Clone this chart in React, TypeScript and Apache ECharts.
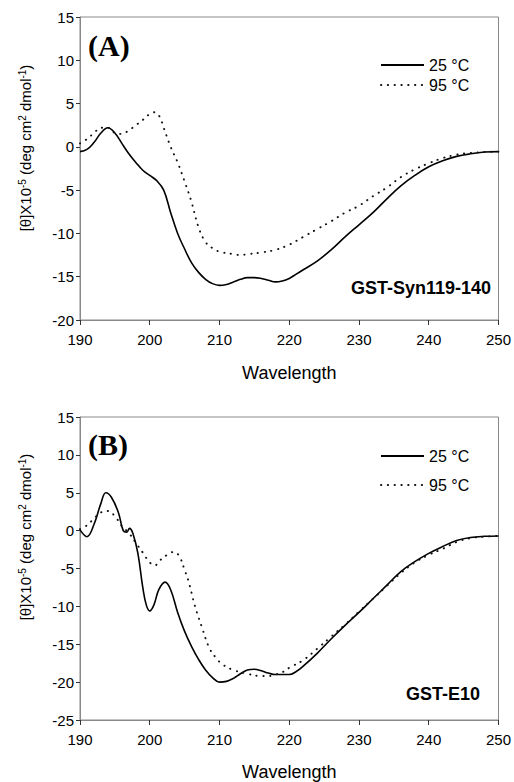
import React, { useEffect, useRef } from "react";
import * as echarts from "echarts";

// Panel A (GST-Syn119-140)
const wlA25 = [190, 191, 192, 193, 194, 195, 196, 197, 198, 199, 200, 201, 202, 203, 204, 205, 206, 207, 208, 209, 210, 211, 212, 213, 214, 215, 216, 217, 218, 219, 220, 221, 222, 224, 226, 228, 230, 232, 234, 236, 238, 240, 242, 244, 246, 248, 250];
const valA25 = [-0.55, -0.3, 0.5, 1.6, 2.2, 1.6, 0.4, -0.8, -1.8, -2.7, -3.3, -3.9, -5.0, -7.6, -10.0, -11.8, -13.4, -14.5, -15.3, -15.8, -16.0, -15.9, -15.6, -15.3, -15.1, -15.1, -15.2, -15.4, -15.6, -15.5, -15.2, -14.7, -14.2, -13.2, -11.9, -10.4, -9.0, -7.6, -6.0, -4.5, -3.3, -2.3, -1.6, -1.1, -0.8, -0.6, -0.55];
const wlA95 = [190, 191, 192, 193, 194, 195, 196, 197, 198, 199, 200, 200.7, 201.4, 202, 203, 204, 205, 206, 207, 208, 209, 210, 212, 213, 214, 216, 218, 220, 222, 224, 226, 228, 230, 232, 234, 236, 238, 240, 242, 244, 246, 248, 250];
const valA95 = [0.4, 0.9, 1.6, 2.2, 2.2, 1.6, 1.5, 1.9, 2.5, 3.1, 3.8, 4.0, 3.5, 2.2, 0.0, -1.8, -4.0, -6.4, -9.3, -11.0, -11.7, -12.1, -12.4, -12.5, -12.4, -12.2, -11.9, -11.3, -10.4, -9.5, -8.6, -7.6, -6.8, -5.7, -4.7, -3.5, -2.6, -1.9, -1.3, -0.9, -0.7, -0.6, -0.55];

// Panel B (GST-E10)
const wlB25 = [190, 191, 192, 193, 193.7, 194.5, 195.5, 196.2, 196.7, 197.1, 197.6, 198.3, 199, 199.5, 200, 200.6, 201.3, 202.2, 203, 204, 205, 206, 207, 208, 209, 210, 211, 212, 213, 214, 215, 216, 217, 218, 219, 220, 221, 222, 224, 226, 228, 230, 232, 234, 236, 238, 240, 242, 244, 246, 248, 250];
const valB25 = [0.1, -0.8, 0.8, 3.6, 5.0, 4.4, 2.4, 0.0, -0.2, 0.3, -0.4, -3.0, -7.5, -9.8, -10.6, -9.8, -7.8, -6.8, -7.8, -10.8, -13.3, -15.3, -17.0, -18.4, -19.4, -20.0, -19.9, -19.5, -18.9, -18.4, -18.3, -18.5, -18.8, -19.0, -19.0, -19.0, -18.6, -17.9, -16.2, -14.3, -12.5, -10.8, -9.0, -7.2, -5.4, -4.1, -3.0, -2.1, -1.3, -0.9, -0.75, -0.7];
const wlB95 = [190, 191, 192, 193, 194, 195, 196, 197, 198, 199, 200, 200.7, 201.5, 202.5, 203.5, 204.3, 205, 205.5, 206.5, 207.5, 208.5, 209.5, 210.5, 212, 214, 216, 217, 218, 219, 220, 222, 224, 226, 228, 230, 232, 234, 236, 238, 240, 242, 244, 246, 248, 250];
const valB95 = [0.2, 0.7, 1.6, 2.4, 2.6, 1.9, 0.6, -0.3, -1.6, -2.9, -4.2, -4.6, -3.9, -3.2, -2.8, -3.5, -5.2, -6.5, -10.0, -12.8, -15.4, -16.8, -17.7, -18.4, -18.9, -19.2, -19.2, -19.0, -18.7, -18.1, -17.1, -15.6, -14.0, -12.4, -10.7, -9.0, -7.3, -5.6, -4.2, -3.2, -2.4, -1.5, -1.0, -0.8, -0.7];

const seriesNames = ["25 °C", "95 °C"];
const panelLabels = ["(A)", "(B)"];
const sampleNames = ["GST-Syn119-140", "GST-E10"];
const xAxisName = "Wavelength";
const yAxisLabel = "[θ]X10{sup|-5} (deg cm{sup|2} dmol{sup|-1})";

const pairs = (xs: number[], ys: number[]) => xs.map((x, i) => [x, ys[i]]);

export default function App() {
  const ref = useRef<HTMLDivElement>(null);
  useEffect(() => {
    if (!ref.current) return;
    const chart = echarts.init(ref.current, undefined, { renderer: "svg" });
    const font = "'Liberation Sans', Arial, sans-serif";
    const axisCommonX = {
      type: "value",
      min: 190,
      max: 250,
      interval: 10,
      name: xAxisName,
      nameLocation: "middle",
      nameTextStyle: { fontSize: 18, color: "#000", fontFamily: font },
      axisLine: { show: true, onZero: false, lineStyle: { color: "#888", width: 1 } },
      axisTick: { show: true, inside: false, length: 5, lineStyle: { color: "#333" } },
      axisLabel: { fontSize: 15, color: "#000", fontFamily: font, margin: 12 },
      splitLine: { show: false },
    };
    const axisCommonY = {
      type: "value",
      max: 15,
      interval: 5,
      axisLine: { show: true, onZero: false, lineStyle: { color: "#888", width: 1 } },
      axisTick: { show: true, inside: false, length: 4, lineStyle: { color: "#333" } },
      axisLabel: { fontSize: 15, color: "#000", fontFamily: font, margin: 6 },
      splitLine: { show: false },
    };
    const solid = { color: "#000", width: 1.6, type: "solid" };
    const dotted = { color: "#111", width: 1.9, type: [0.3, 6.5], cap: "round" };
    const mk = (name: string, data: number[][], idx: number, ls: any) => ({
      type: "line",
      name,
      data,
      xAxisIndex: idx,
      yAxisIndex: idx,
      symbol: "none",
      showSymbol: false,
      smooth: 0.4,
      lineStyle: ls,
      itemStyle: { color: "#000" },
    });
    const richSup = {
      sup: { fontSize: 10, fontFamily: font, color: "#000", verticalAlign: "top", lineHeight: 16 },
    };
    const legendCommon = {
      data: seriesNames,
      orient: "vertical",
      left: 375,
      itemWidth: 43,
      itemHeight: 14,
      textStyle: { fontSize: 16, color: "#000", fontFamily: font },
      itemStyle: { opacity: 0, color: "transparent", borderWidth: 0 },
      selectedMode: false,
    };
    chart.setOption({
      animation: false,
      backgroundColor: "#fff",
      grid: [
        { left: 80, top: 17, width: 420, height: 303, show: true, borderColor: "#888", borderWidth: 1 },
        { left: 80, top: 417, width: 420, height: 304, show: true, borderColor: "#888", borderWidth: 1 },
      ],
      xAxis: [
        { ...axisCommonX, gridIndex: 0, nameGap: 44 },
        { ...axisCommonX, gridIndex: 1, nameGap: 43 },
      ],
      yAxis: [
        { ...axisCommonY, gridIndex: 0, min: -20 },
        { ...axisCommonY, gridIndex: 1, min: -25 },
      ],
      legend: [
        { ...legendCommon, top: 52, itemGap: 4 },
        { ...legendCommon, top: 443, itemGap: 13 },
      ],
      series: [
        mk(seriesNames[0], pairs(wlA25, valA25), 0, solid),
        mk(seriesNames[1], pairs(wlA95, valA95), 0, dotted),
        mk(seriesNames[0], pairs(wlB25, valB25), 1, solid),
        mk(seriesNames[1], pairs(wlB95, valB95), 1, dotted),
      ],
      graphic: [
        {
          type: "text",
          left: 88,
          top: 30,
          style: { text: panelLabels[0], font: "bold 30px 'Liberation Serif', 'Times New Roman', serif", fill: "#000" },
        },
        {
          type: "text",
          left: 88,
          top: 429,
          style: { text: panelLabels[1], font: "bold 30px 'Liberation Serif', 'Times New Roman', serif", fill: "#000" },
        },
        {
          type: "text",
          x: 491,
          y: 288,
          style: { text: sampleNames[0], font: `bold 18px ${font}`, fill: "#000", align: "right", verticalAlign: "middle" },
        },
        {
          type: "text",
          x: 480,
          y: 694,
          style: { text: sampleNames[1], font: `bold 18px ${font}`, fill: "#000", align: "right", verticalAlign: "middle" },
        },
        {
          type: "text",
          x: 25,
          y: 148,
          rotation: Math.PI / 2,
          style: {
            text: yAxisLabel,
            font: `15px ${font}`,
            fill: "#000",
            align: "center",
            verticalAlign: "middle",
            rich: richSup,
          },
        },
        {
          type: "text",
          x: 25,
          y: 537,
          rotation: Math.PI / 2,
          style: {
            text: yAxisLabel,
            font: `15px ${font}`,
            fill: "#000",
            align: "center",
            verticalAlign: "middle",
            rich: richSup,
          },
        },
      ],
    });
    return () => chart.dispose();
  }, []);
  return (
    <div
      ref={ref}
      style={{ position: "absolute", left: 0, top: 0, width: 514, height: 782, background: "#fff" }}
    />
  );
}
